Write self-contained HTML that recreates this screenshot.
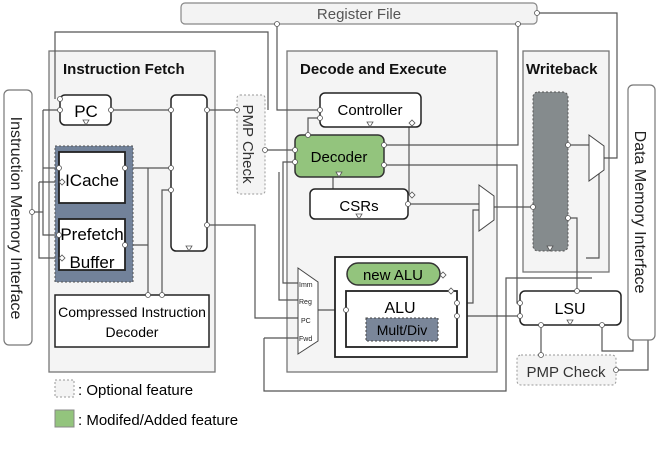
<!DOCTYPE html>
<html><head><meta charset="utf-8"><style>
html,body{margin:0;padding:0;background:#fff;}
svg{display:block;font-family:"Liberation Sans",sans-serif;}
</style></head><body>
<svg width="658" height="459" viewBox="0 0 658 459" xmlns="http://www.w3.org/2000/svg">
<g fill="none" stroke="#666" stroke-width="1.3">
<rect x="49" y="51" width="166" height="321" fill="#f4f4f4" stroke="#777"/>
<rect x="287" y="51" width="210" height="321" fill="#f4f4f4" stroke="#777"/>
<rect x="523" y="51" width="86" height="221" fill="#f4f4f4" stroke="#777"/>
</g>
<g fill="none" stroke="#555" stroke-width="1.2">
<path d="M277 24 V110 H320"/>
<path d="M55 99 V32 H268 V110"/>
<path d="M518 24 V145 H384"/>
<path d="M537 13 H617 V158 H604"/>
<path d="M111 110 H237"/>
<path d="M265 150 H295"/>
<path d="M308 135 V118 H320"/>
<path d="M125 168 H171"/><path d="M148 168 V295"/>
<path d="M125 245 H148"/>
<path d="M171 190 H162 V295"/>
<path d="M207 225 H255 V318 H298"/>
<path d="M43 110 H60"/><path d="M43 110 V235 H59"/>
<path d="M43 168 H59"/>
<path d="M39 182 V258 H59"/><path d="M39 182 H59"/>
<path d="M32 212 H43"/>
<path d="M295 162 H283 V283 H298"/>
<path d="M279 172 V300 H298"/>
<path d="M408 204 H479"/>
<path d="M494 207 H533"/>
<path d="M409 123 V195"/>
<path d="M384 165 H517 V303 H520"/>
<path d="M568 145 H589"/>
<path d="M568 218 H577 V291"/>
<path d="M333 148 V207"/>
<path d="M457 303 H473 V210 H479"/>
<path d="M440 275 H448 V291"/>
<path d="M457 316 H520"/>
<path d="M264 338 H298"/><path d="M264 338 V391 H506 V278 H592"/>
<path d="M586 258 H599 V171 H589"/>
<path d="M541 325 V355"/>
<path d="M602 325 V351 H633 V340"/>
<path d="M616 370 H648 V340"/>
<path d="M318 310 H346"/>
</g>
<rect x="181" y="3" width="356" height="21" rx="4" fill="#f3f3f3" stroke="#888" stroke-width="1.2"/>
<text x="359" y="19" font-size="15" fill="#555" text-anchor="middle">Register File</text>
<rect x="4" y="90" width="28" height="255" rx="5" fill="#fff" stroke="#777" stroke-width="1.2"/>
<text transform="translate(11 218) rotate(90)" font-size="16" fill="#222" text-anchor="middle">Instruction Memory Interface</text>
<rect x="628" y="85" width="27" height="255" rx="5" fill="#fff" stroke="#777" stroke-width="1.2"/>
<text transform="translate(635 212) rotate(90)" font-size="16" fill="#222" text-anchor="middle">Data Memory Interface</text>
<text x="63" y="74" font-size="15" font-weight="bold" fill="#111">Instruction Fetch</text>
<text x="300" y="74" font-size="15" font-weight="bold" fill="#111">Decode and Execute</text>
<text x="526" y="74" font-size="15" font-weight="bold" fill="#111">Writeback</text>
<rect x="60" y="95" width="51" height="30" rx="5" fill="#fff" stroke="#222" stroke-width="1.5"/>
<text x="86" y="117" font-size="17" text-anchor="middle">PC</text>
<rect x="55" y="146" width="78" height="136" fill="#72829a" stroke="#555" stroke-dasharray="2 2"/>
<rect x="59" y="152" width="66" height="51" fill="#fff" stroke="#222" stroke-width="1.8"/>
<text x="92" y="186" font-size="17" text-anchor="middle">ICache</text>
<rect x="59" y="219" width="66" height="51" fill="#fff" stroke="#222" stroke-width="1.8"/>
<text x="92" y="240" font-size="17" text-anchor="middle">Prefetch</text>
<text x="92" y="268" font-size="17" text-anchor="middle">Buffer</text>
<rect x="171" y="95" width="36" height="156" rx="5" fill="#fff" stroke="#222" stroke-width="1.5"/>
<rect x="55" y="295" width="154" height="52" fill="#fff" stroke="#222" stroke-width="1.5"/>
<text x="132" y="317" font-size="14" text-anchor="middle">Compressed Instruction</text>
<text x="132" y="337" font-size="14" text-anchor="middle">Decoder</text>
<rect x="237" y="95" width="28" height="99" rx="3" fill="#f4f4f4" stroke="#999" stroke-dasharray="2 2"/>
<text transform="translate(243 144) rotate(90)" font-size="15" fill="#333" text-anchor="middle">PMP Check</text>
<rect x="320" y="93" width="101" height="34" rx="5" fill="#fff" stroke="#222" stroke-width="1.5"/>
<text x="370" y="115" font-size="15" text-anchor="middle">Controller</text>
<rect x="295" y="135" width="89" height="42" rx="6" fill="#93c47d" stroke="#333" stroke-width="1.5"/>
<text x="339" y="162" font-size="15" text-anchor="middle">Decoder</text>
<rect x="310" y="189" width="98" height="30" rx="5" fill="#fff" stroke="#222" stroke-width="1.5"/>
<text x="359" y="211" font-size="15" text-anchor="middle">CSRs</text>
<polygon points="479,185 494,196 494,220 479,231" fill="#fff" stroke="#444"/>
<rect x="335" y="257" width="132" height="100" fill="#fff" stroke="#222" stroke-width="1.8"/>
<rect x="347" y="263" width="93" height="22" rx="11" fill="#93c47d" stroke="#333" stroke-width="1.5"/>
<text x="393" y="280" font-size="15" text-anchor="middle">new ALU</text>
<rect x="346" y="291" width="111" height="56" fill="#fff" stroke="#222" stroke-width="1.8"/>
<text x="400" y="313" font-size="16" text-anchor="middle">ALU</text>
<rect x="366" y="318" width="72" height="23" fill="#7a8699" stroke="#444" stroke-dasharray="2 2"/>
<text x="402" y="335" font-size="14" text-anchor="middle">Mult/Div</text>
<polygon points="298,268 318,282 318,341 298,354" fill="#fff" stroke="#444"/>
<g font-size="7" fill="#222"><text x="299" y="287">Imm</text><text x="299" y="304">Reg</text><text x="301" y="323">PC</text><text x="299" y="341">Fwd</text></g>
<rect x="533" y="92" width="35" height="159" rx="5" fill="#858b8d" stroke="#555" stroke-dasharray="2 2"/>
<polygon points="589,135 604,146 604,170 589,181" fill="#fff" stroke="#444"/>
<rect x="520" y="291" width="101" height="34" rx="5" fill="#fff" stroke="#222" stroke-width="1.5"/>
<text x="570" y="314" font-size="16" text-anchor="middle">LSU</text>
<rect x="517" y="355" width="99" height="30" rx="4" fill="#f4f4f4" stroke="#999" stroke-dasharray="2 2"/>
<text x="566" y="377" font-size="15" fill="#333" text-anchor="middle">PMP Check</text>
<g fill="#fff" stroke="#555" stroke-width="0.8">
<circle cx="111" cy="110" r="2.5"/><circle cx="171" cy="110" r="2.5"/><circle cx="207" cy="110" r="2.5"/>
<circle cx="237" cy="110" r="2.5"/><circle cx="265" cy="150" r="2.5"/><circle cx="295" cy="150" r="2.5"/>
<circle cx="295" cy="162" r="2.5"/><circle cx="320" cy="110" r="2.5"/><circle cx="320" cy="118" r="2.5"/>
<circle cx="308" cy="135" r="2.5"/><circle cx="384" cy="145" r="2.5"/><circle cx="384" cy="165" r="2.5"/>
<circle cx="125" cy="168" r="2.5"/><circle cx="171" cy="168" r="2.5"/><circle cx="171" cy="190" r="2.5"/>
<circle cx="125" cy="245" r="2.5"/><circle cx="207" cy="225" r="2.5"/><circle cx="60" cy="99" r="2.5"/>
<circle cx="60" cy="110" r="2.5"/><circle cx="59" cy="168" r="2.5"/><circle cx="59" cy="235" r="2.5"/>
<circle cx="32" cy="212" r="2.5"/><circle cx="148" cy="295" r="2.5"/><circle cx="162" cy="295" r="2.5"/>
<circle cx="408" cy="204" r="2.5"/><circle cx="533" cy="207" r="2.5"/><circle cx="568" cy="145" r="2.5"/>
<circle cx="568" cy="218" r="2.5"/><circle cx="577" cy="291" r="2.5"/><circle cx="346" cy="310" r="2.5"/>
<circle cx="457" cy="303" r="2.5"/><circle cx="457" cy="316" r="2.5"/><circle cx="520" cy="303" r="2.5"/>
<circle cx="520" cy="316" r="2.5"/><circle cx="541" cy="325" r="2.5"/><circle cx="541" cy="355" r="2.5"/>
<circle cx="602" cy="325" r="2.5"/><circle cx="616" cy="370" r="2.5"/><circle cx="277" cy="24" r="2.5"/>
<circle cx="518" cy="24" r="2.5"/><circle cx="537" cy="13" r="2.5"/>
<polygon points="59,182 62,179 65,182 62,185"/><polygon points="59,258 62,255 65,258 62,261"/>
<polygon points="409,123 412,120 415,123 412,126"/><polygon points="409,195 412,192 415,195 412,198"/>
<polygon points="440,275 443,272 446,275 443,278"/><polygon points="448,291 451,288 454,291 451,294"/>
<polygon points="86,125 83,120 89,120"/><polygon points="189,251 186,246 192,246"/>
<polygon points="370,127 367,122 373,122"/><polygon points="339,177 336,172 342,172"/>
<polygon points="359,219 356,214 362,214"/><polygon points="570,325 567,320 573,320"/>
<polygon points="550,251 547,246 553,246"/>
</g>
<rect x="55" y="380" width="19" height="17" fill="#f4f4f4" stroke="#999" stroke-dasharray="2 2"/>
<text x="78" y="395" font-size="15">: Optional feature</text>
<rect x="55" y="410" width="19" height="17" fill="#93c47d" stroke="#888"/>
<text x="78" y="425" font-size="15">: Modifed/Added feature</text>
</svg>
</body></html>
